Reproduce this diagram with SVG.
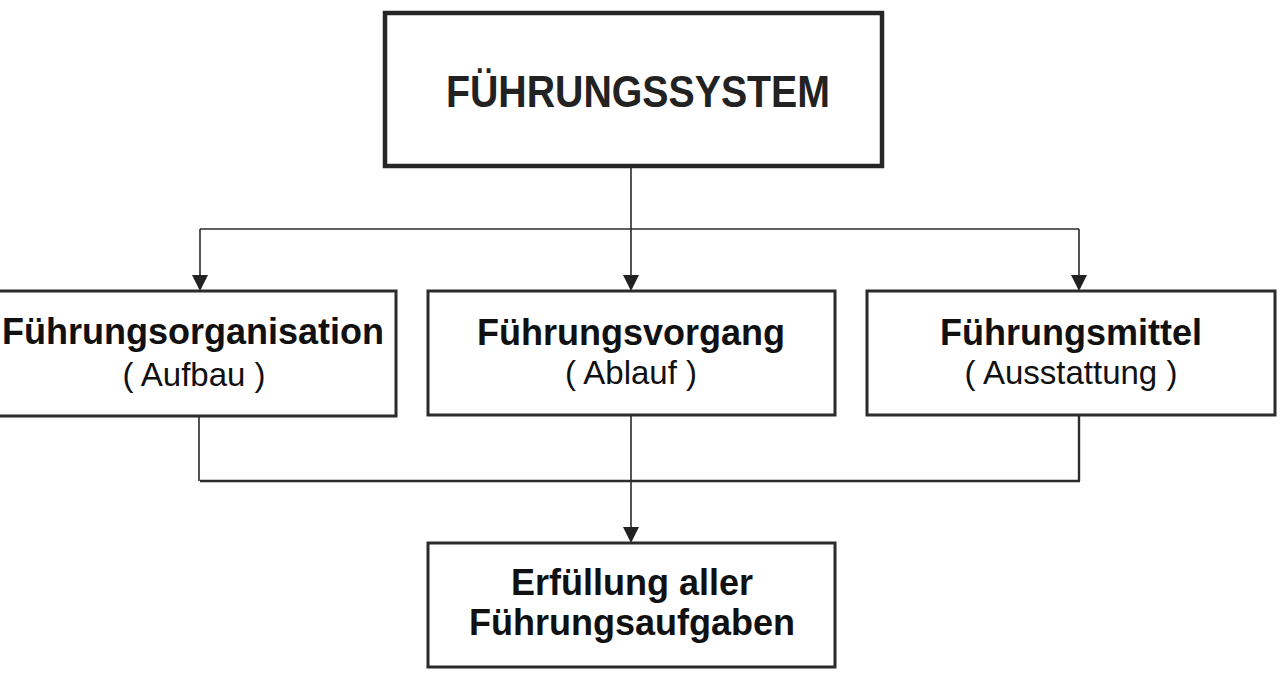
<svg xmlns="http://www.w3.org/2000/svg" width="1285" height="675" viewBox="0 0 1285 675">
<style>
  .box { fill: #fff; stroke: #2b2b2b; stroke-width: 3; }
  .top { fill: #fff; stroke: #262626; stroke-width: 4.5; }
  .b { font-family: "Liberation Sans", Arial, sans-serif; font-weight: bold; font-size: 36px; fill: #111; text-anchor: middle; }
  .r { font-family: "Liberation Sans", Arial, sans-serif; font-size: 33px; fill: #111; text-anchor: middle; }
  .ln { fill: none; stroke: #2b2b2b; stroke-width: 1.6; }
  .ln2 { fill: none; stroke: #2b2b2b; stroke-width: 2.4; }
</style>
<rect width="1285" height="675" fill="#fff"/>
<g id="connectors">
  <path class="ln" d="M631,168 V278"/>
  <path class="ln" d="M200,229 H1079"/>
  <path class="ln" d="M200,229 V278"/>
  <path class="ln" d="M1079,229 V278"/>
  <path class="ln" d="M199,417 V481"/>
  <path class="ln2" d="M1079,415 V481"/>
  <path class="ln2" d="M200,481 H1080"/>
  <path class="ln" d="M631,415 V530"/>
  <g fill="#222">
    <path d="M623,275 L639,275 L631,291 Z"/>
    <path d="M192,275 L208,275 L200,291 Z"/>
    <path d="M1071,275 L1087,275 L1079,291 Z"/>
    <path d="M623,527 L639,527 L631,543 Z"/>
  </g>
</g>
<g id="fuehrungssystem">
  <rect class="top" x="385" y="13" width="497" height="153"/>
  <text x="638" y="107" font-family="'Liberation Sans', Arial, sans-serif" font-weight="bold" font-size="45" fill="#222" text-anchor="middle" textLength="384" lengthAdjust="spacingAndGlyphs">FÜHRUNGSSYSTEM</text>
</g>
<g id="organisation">
  <rect class="box" x="-5" y="291" width="401" height="125"/>
  <text class="b" x="193" y="344">Führungsorganisation</text>
  <text class="r" x="194" y="386">( Aufbau )</text>
</g>
<g id="vorgang">
  <rect class="box" x="428" y="291" width="407" height="124"/>
  <text class="b" x="631" y="345">Führungsvorgang</text>
  <text class="r" x="631" y="384">( Ablauf )</text>
</g>
<g id="mittel">
  <rect class="box" x="867" y="291" width="408" height="124"/>
  <text class="b" x="1071" y="345">Führungsmittel</text>
  <text class="r" x="1071" y="384">( Ausstattung )</text>
</g>
<g id="erfuellung">
  <rect class="box" x="428" y="543" width="407" height="124"/>
  <text class="b" x="632" y="595">Erfüllung aller</text>
  <text class="b" x="632" y="635">Führungsaufgaben</text>
</g>
</svg>
